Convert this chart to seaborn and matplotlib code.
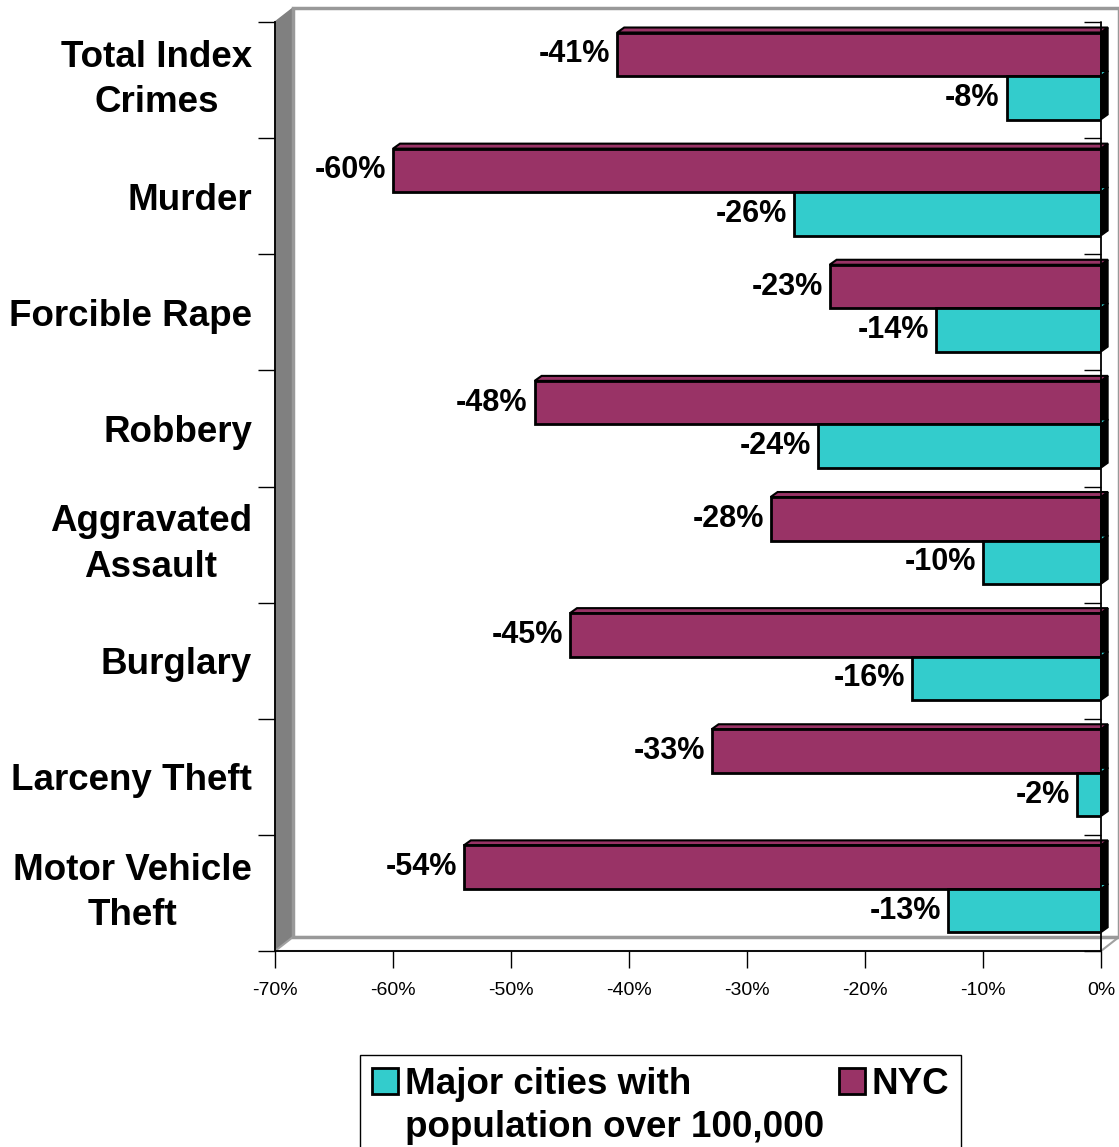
import matplotlib
matplotlib.use('Agg')
import matplotlib.pyplot as plt
import matplotlib.transforms as mtransforms
from matplotlib.patches import Polygon, Patch, Rectangle
import seaborn as sns
import numpy as np
import pandas as pd

# data (percent change)
crimes = ['Total Index\nCrimes', 'Murder', 'Forcible Rape', 'Robbery',
          'Aggravated\nAssault', 'Burglary', 'Larceny Theft', 'Motor Vehicle\nTheft']
nyc = [-41, -60, -23, -48, -28, -45, -33, -54]
major = [-8, -26, -14, -24, -10, -16, -2, -13]
series = ['NYC', 'Major cities with population over 100,000']
legend_lines = ['Major cities with', 'population over 100,000']
colors = ['#993366', '#33CCCC']
x_ticks = [-70, -60, -50, -40, -30, -20, -10, 0]

df = pd.DataFrame({
    'crime': crimes * 2,
    'change': nyc + major,
    'area': [series[0]] * len(crimes) + [series[1]] * len(crimes),
})

sns.set_style('white')
plt.rcParams['font.family'] = ['Liberation Sans', 'DejaVu Sans']
plt.rcParams.update({'text.color': 'black', 'axes.labelcolor': 'black',
                     'xtick.color': 'black', 'ytick.color': 'black'})

W, H = 1119, 1147
fig = plt.figure(figsize=(W / 100, H / 100), dpi=100)
ax = fig.add_axes([275 / W, 1 - 951 / H, 826 / W, 929 / H])
ax.patch.set_visible(False)

sns.barplot(data=df, y='crime', x='change', hue='area', hue_order=series,
            palette=colors, orient='h', width=0.75, edgecolor='black',
            linewidth=2, saturation=1, legend=False, ax=ax, zorder=3)

ax.set_xlim(x_ticks[0], x_ticks[-1])
ax.set_ylim(len(crimes) - 0.5, -0.5)
ax.autoscale(False)
ax.set_xlabel('')
ax.set_ylabel('')

# the 3D front faces sit a few pixels above the band centre
(L, B), (R, T) = ax.transAxes.transform([[0, 0], [1, 1]])
shift = 4 * len(crimes) / (T - B)
for cont in ax.containers:
    for bar in cont:
        bar.set_y(bar.get_y() - shift)

# axes / ticks
for side in ['top', 'right']:
    ax.spines[side].set_visible(False)
for side in ['left', 'bottom']:
    ax.spines[side].set_color('black')
    ax.spines[side].set_linewidth(1.3)

ax.set_xticks(x_ticks)
ax.set_xticklabels([f'{t}%' for t in x_ticks])
ax.tick_params(axis='x', bottom=True, length=12, width=1, color='black',
               labelsize=14, pad=10)
ax.set_yticks(np.arange(-0.5, len(crimes)), minor=True)
ax.tick_params(axis='y', which='minor', left=True, length=12, width=1, color='black')
ax.tick_params(axis='y', which='major', left=False, length=0, pad=16.5, labelsize=26.5)
for lbl in ax.get_yticklabels():
    lbl.set_fontweight('bold')
    lbl.set_multialignment('center')
    lbl.set_linespacing(1.4)
    if '\n' in lbl.get_text():
        lbl.set_verticalalignment('center')

# value labels
for cont in ax.containers:
    ax.bar_label(cont, fmt='{:.0f}%', padding=5, fontsize=22, fontweight='bold')

# pseudo 3D: walls and floor, in pixels
ident = mtransforms.IdentityTransform()
wdx, wdy = 18, 14
ax.add_patch(Polygon([(L, B), (L, T), (L + wdx, T + wdy), (L + wdx, B + wdy)],
                     closed=True, facecolor='#808080', edgecolor='#808080', lw=1,
                     transform=ident, clip_on=False, zorder=0.5))
ax.add_patch(Polygon([(L, B), (L + wdx, B + wdy), (R + wdx, B + wdy), (R, B)],
                     closed=True, facecolor='white', edgecolor='#a0a0a0', lw=1.5,
                     transform=ident, clip_on=False, zorder=0.5))
ax.add_patch(Rectangle((L + wdx, B + wdy), R - L, T - B, facecolor='none',
                       edgecolor='#999999', lw=2.5, transform=ident,
                       clip_on=False, zorder=0.6))

# bar depth faces
bdx, bdy = 7, 5
for cont, col in zip(ax.containers, colors):
    for bar in cont:
        (x0, y0), (x1, y1) = ax.transData.transform(bar.get_bbox().get_points())
        l, r = sorted((x0, x1))
        b, t = sorted((y0, y1))
        ax.add_patch(Polygon([(l, t), (r, t), (r + bdx, t + bdy), (l + bdx, t + bdy)],
                             closed=True, facecolor=col, edgecolor='black', lw=1.5,
                             transform=ident, clip_on=False, zorder=2))
        ax.add_patch(Polygon([(r, b), (r, t), (r + bdx, t + bdy), (r + bdx, b + bdy)],
                             closed=True, facecolor='black', edgecolor='black', lw=1,
                             transform=ident, clip_on=False, zorder=2))

# zero line with its own boundary ticks
ax.axvline(0, color='black', lw=1.3, zorder=6, clip_on=False)
tick_len = 12 * fig.dpi / 72 * (x_ticks[-1] - x_ticks[0]) / (R - L)
ax.hlines(np.arange(-0.5, len(crimes)), -tick_len, 0, color='black', lw=1,
          zorder=6, clip_on=False)

# legend
handles = [Patch(facecolor=colors[1], edgecolor='black', lw=2),
           Patch(facecolor='none', edgecolor='none'),
           Patch(facecolor=colors[0], edgecolor='black', lw=2),
           Patch(facecolor='none', edgecolor='none')]
labels = [legend_lines[0], legend_lines[1], series[0], '']
leg = fig.legend(handles, labels, ncol=2, loc='upper left',
                 bbox_to_anchor=(360 / W, 1 - 1055 / H), borderaxespad=0,
                 frameon=True, fancybox=False, edgecolor='black', framealpha=1,
                 prop={'size': 26.5, 'weight': 'bold'}, handlelength=0.7,
                 handleheight=0.7, handletextpad=0.2, columnspacing=0.4,
                 labelspacing=0.22, borderpad=0.32)
leg.get_frame().set_linewidth(1)

fig.savefig('out.png', dpi=100)
